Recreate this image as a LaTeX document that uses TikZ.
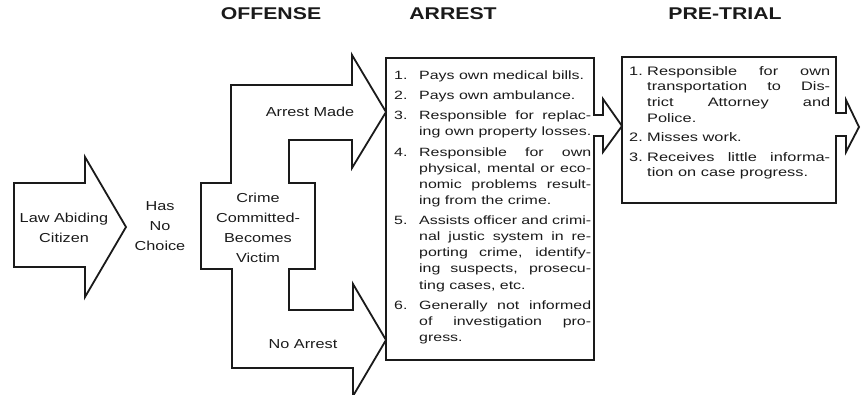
\documentclass[tikz,border=0pt]{standalone}
\usepackage{fontspec}
\setmainfont[FakeStretch=1.25]{Liberation Sans}
\newfontfamily\listfont[FakeStretch=1.33]{Liberation Sans}
\usepackage{tikz}
\definecolor{VCInk}{HTML}{1A1A1A}
\newcommand\jl[1]{\makebox[\linewidth][s]{#1}\\}
\newcommand\lastl[1]{\mbox{#1}}
\newcommand\arrestitem[2]{\makebox[25pt][l]{#1}\parbox[t]{172pt}{#2}}
\newcommand\trialitem[2]{\makebox[18pt][l]{#1}\parbox[t]{183pt}{#2}}

\begin{document}
\begin{tikzpicture}[x=1pt,y=-1pt,
  outline/.style={draw=VCInk,line width=1.8pt},
  heading/.style={font=\bfseries\fontsize{17}{20}\selectfont,text=VCInk},
  lbl/.style={align=center,font=\fontsize{13}{20}\selectfont,text=VCInk,inner sep=0pt},
  arrestline/.style={anchor=base west,inner sep=0pt,font=\listfont\fontsize{12}{16.3}\selectfont,text=VCInk},
  trialline/.style={anchor=base west,inner sep=0pt,font=\listfont\fontsize{12.3}{15.7}\selectfont,text=VCInk}]
\path[use as bounding box] (0,0) rectangle (861,394);
\node[heading] (hoffense) at (271,14) {OFFENSE};
\node[heading] (harrest) at (453,14) {ARREST};
\node[heading] (htrial) at (725,14) {PRE-TRIAL};
\draw[outline] (14,183) -- (85,183) -- (85,157) -- (126,227) -- (85,297) -- (85,267) -- (14,267) -- cycle;
\node[lbl] (citizen) at (64,228) {Law Abiding\\Citizen};
\node[lbl] (nochoice) at (160,226) {Has\\No\\Choice};
\draw[outline] (201,183) -- (231,183) -- (231,85) -- (352,85) -- (352,55) -- (386,112) -- (352,168)
  -- (352,140) -- (289,140) -- (289,183) -- (315,183) -- (315,269) -- (289,269) -- (289,310)
  -- (353,310) -- (353,284) -- (386,340) -- (353,396) -- (353,368) -- (232,368) -- (232,269)
  -- (201,269) -- cycle;
\node[lbl] (victim) at (258,228) {Crime\\Committed-\\Becomes\\Victim};
\node[lbl] (made) at (310,112) {Arrest Made};
\node[lbl] (noarrest) at (303,344) {No Arrest};
\draw[outline] (386,58) -- (594,58) -- (594,115) -- (603,115) -- (603,99) -- (622,126) -- (603,152)
  -- (603,136) -- (594,136) -- (594,360) -- (386,360) -- cycle;
\node[arrestline] (a1) at (394,79) {\arrestitem{1.}{\lastl{Pays own medical bills.}}};
\node[arrestline] (a2) at (394,99) {\arrestitem{2.}{\lastl{Pays own ambulance.}}};
\node[arrestline] (a3) at (394,119) {\arrestitem{3.}{\jl{Responsible for replac-}\lastl{ing own property losses.}}};
\node[arrestline] (a4) at (394,156) {\arrestitem{4.}{\jl{Responsible for own}\jl{physical, mental or eco-}\jl{nomic problems result-}\lastl{ing from the crime.}}};
\node[arrestline] (a5) at (394,224) {\arrestitem{5.}{\jl{Assists officer and crimi-}\jl{nal justic system in re-}\jl{porting crime, identify-}\jl{ing suspects, prosecu-}\lastl{ting cases, etc.}}};
\node[arrestline] (a6) at (394,309) {\arrestitem{6.}{\jl{Generally not informed}\jl{of investigation pro-}\lastl{gress.}}};
\draw[outline] (622,57) -- (836,57) -- (836,113) -- (846,113) -- (846,100) -- (859,127) -- (846,152)
  -- (846,136) -- (836,136) -- (836,203) -- (622,203) -- cycle;
\node[trialline] (p1) at (629,75) {\trialitem{1.}{\jl{Responsible for own}\jl{transportation to Dis-}\jl{trict Attorney and}\lastl{Police.}}};
\node[trialline] (p2) at (629,141) {\trialitem{2.}{\lastl{Misses work.}}};
\node[trialline] (p3) at (629,161) {\trialitem{3.}{\jl{Receives little informa-}\lastl{tion on case progress.}}};
\end{tikzpicture}
\end{document}
